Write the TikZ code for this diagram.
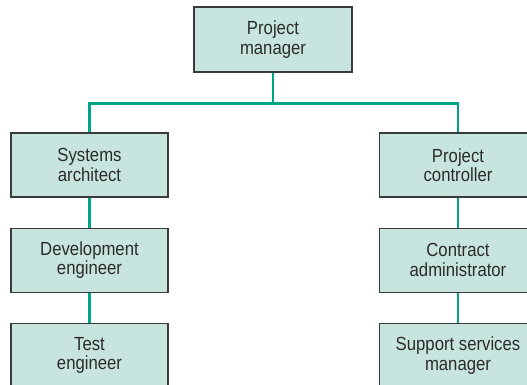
\documentclass[tikz,border=0pt]{standalone}
\usepackage{fontspec}
\setmainfont{Liberation Sans}[FakeStretch=0.88]
\usepackage{tikz}
\usetikzlibrary{calc,positioning}
\definecolor{caixa}{HTML}{C7E5DE}
\definecolor{borda}{HTML}{3A3A3A}
\definecolor{texto}{HTML}{2B2B2B}
\definecolor{linha}{HTML}{00A587}

\begin{document}
\begin{tikzpicture}[x=1pt,y=1pt, font=\fontsize{19}{19.5}\selectfont,
    role/.style={draw=borda, line width=1.2pt, fill=caixa, text=texto, align=center, minimum width=157pt, minimum height=64pt, inner sep=0pt},
    link/.style={draw=linha, line width=2.7pt}]
  \clip (0,0) rectangle (527,384);
  \node[role, minimum width=158pt, minimum height=65pt] (pm) at (273,344.5) {Project\\manager};
  \node[role] (sa) at (89.5,219) {Systems\\architect};
  \node[role, below=30pt of sa] (de) {Development\\engineer};
  \node[role, below=30pt of de] (te) {Test\\engineer};
  \node[role] (pc) at (458,219) {Project\\controller};
  \node[role, below=30pt of pc] (ca) {Contract\\administrator};
  \node[role, below=30pt of ca] (ssm) {Support services\\manager};
  \coordinate (bus) at ($(pm.south)+(0,-31)$);
  \draw[link] (pm.south) -- (bus);
  \draw[link] (sa.north) |- (bus) -| (pc.north);
  \draw[link] (sa) -- (de);
  \draw[link] (de) -- (te);
  \draw[link] (pc) -- (ca);
  \draw[link] (ca) -- (ssm);
\end{tikzpicture}
\end{document}
